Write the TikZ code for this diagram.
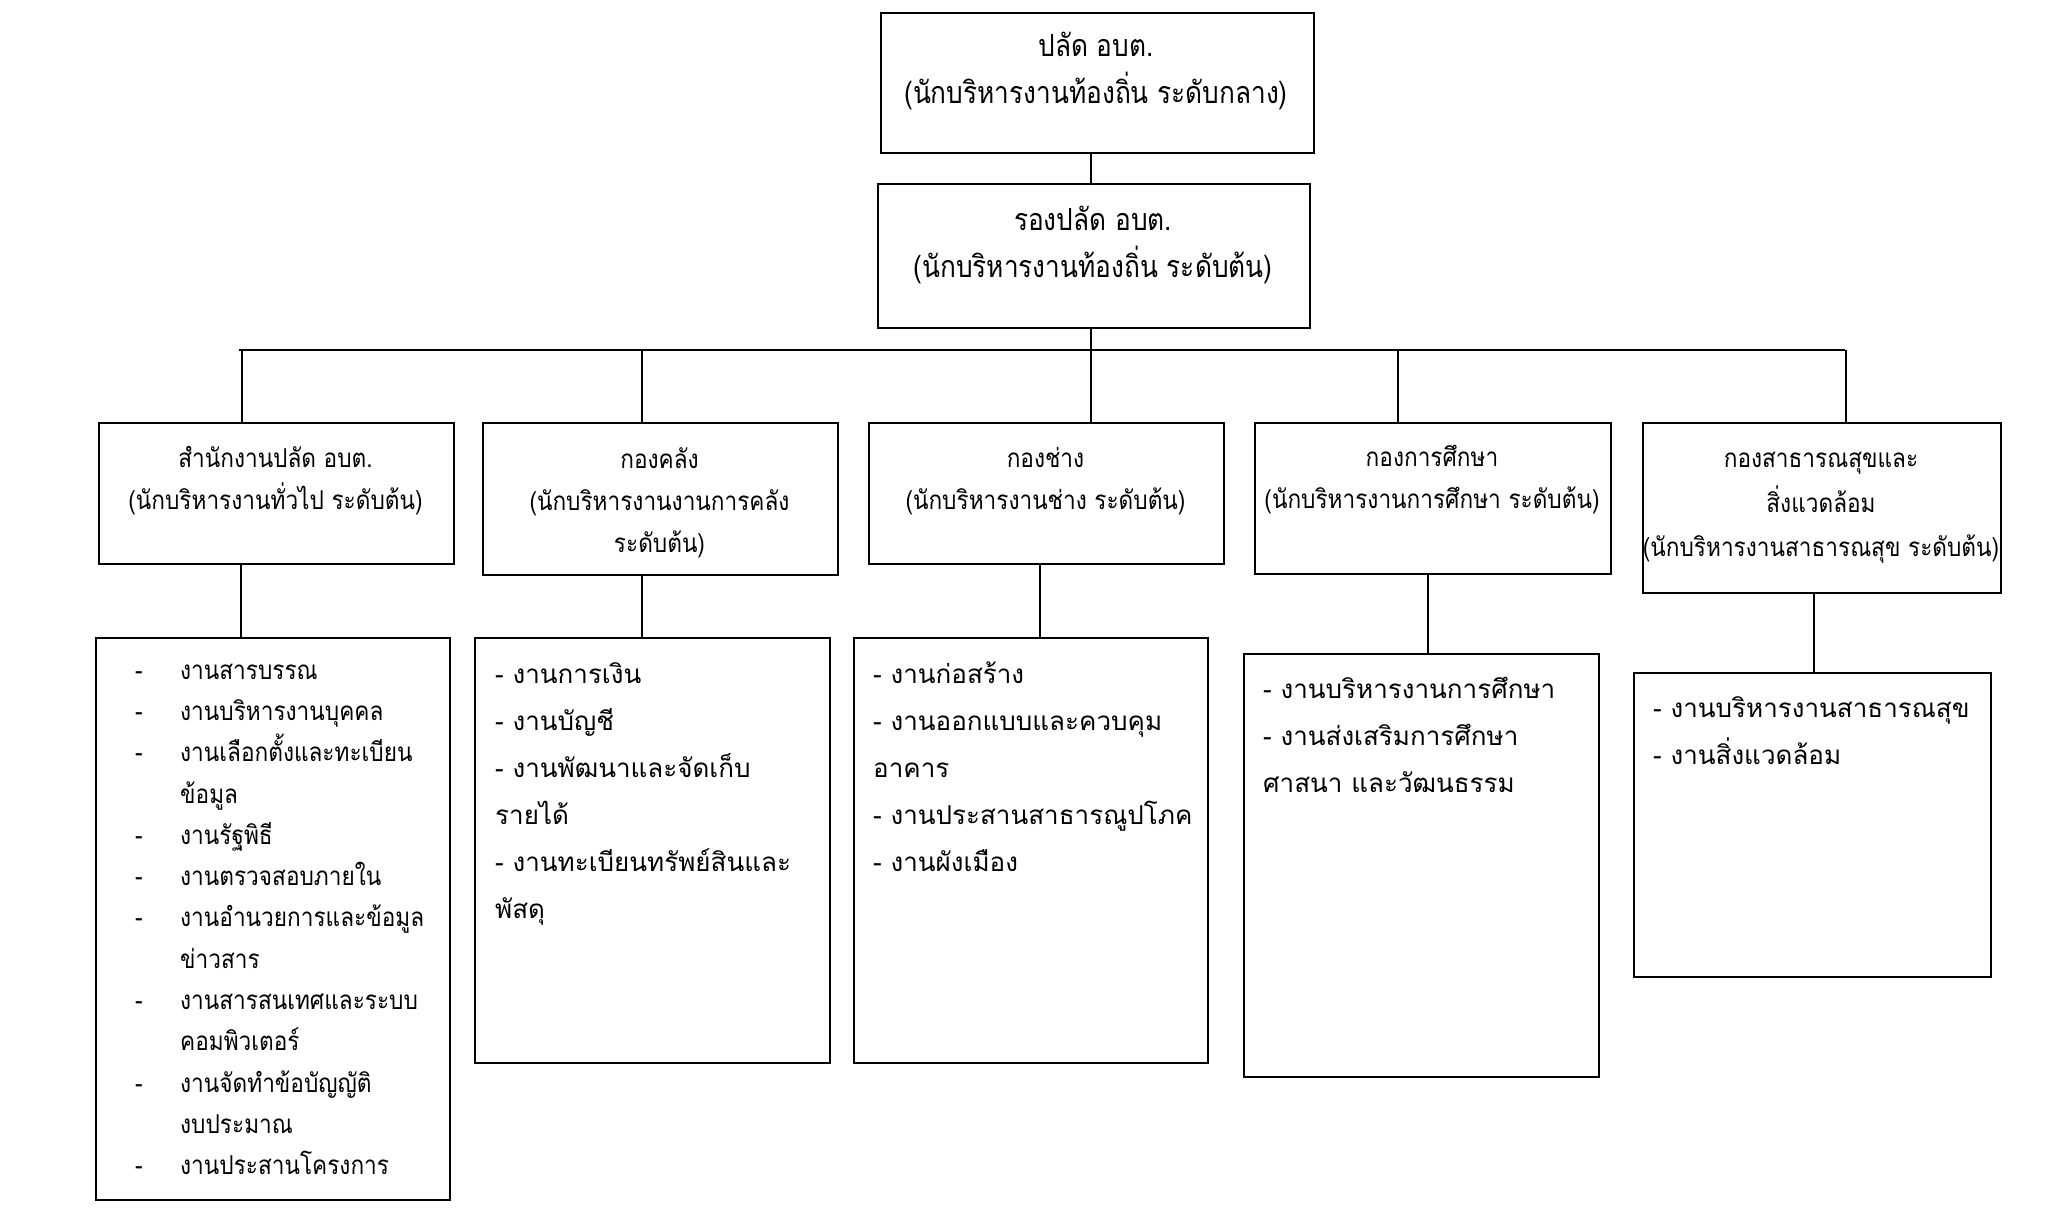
\documentclass[tikz,border=0pt]{standalone}
\usepackage{fontspec}
\newfontfamily\thai[Script=Thai]{Loma}
\newfontfamily\thain[Script=Thai, FakeStretch=0.87]{Loma}
\newfontfamily\thait[Script=Thai, FakeStretch=0.86]{Loma}
\begin{document}
\begin{tikzpicture}[x=1pt,y=-1pt,
  box/.style={draw=black, line width=2.2pt, inner sep=0pt, anchor=north west},
  link/.style={draw=black, line width=2.2pt},
  toptxt/.style={font=\thait\fontsize{30.5}{47}\selectfont, align=center, inner sep=0pt},
  headtxt/.style={font=\thain\fontsize{26}{42}\selectfont, align=center, inner sep=0pt},
  listtxt/.style={font=\thai\fontsize{26}{47}\selectfont, align=left, inner sep=0pt, anchor=north west}]
\useasboundingbox[fill=white] (0,0) rectangle (2050,1213);
% boxes
\node[box, minimum width=433pt, minimum height=140pt] (b0) at (880,12) {};
\node[box, minimum width=432pt, minimum height=144pt] (b1) at (877,183) {};
\node[box, minimum width=355pt, minimum height=141pt] (h1) at (98,422) {};
\node[box, minimum width=355pt, minimum height=152pt] (h2) at (482,422) {};
\node[box, minimum width=355pt, minimum height=141pt] (h3) at (868,422) {};
\node[box, minimum width=356pt, minimum height=151pt] (h4) at (1254,422) {};
\node[box, minimum width=358pt, minimum height=170pt] (h5) at (1642,422) {};
\node[box, minimum width=354pt, minimum height=562pt] (l1) at (95,637) {};
\node[box, minimum width=355pt, minimum height=425pt] (l2) at (474,637) {};
\node[box, minimum width=354pt, minimum height=425pt] (l3) at (853,637) {};
\node[box, minimum width=355pt, minimum height=423pt] (l4) at (1243,653) {};
\node[box, minimum width=357pt, minimum height=304pt] (l5) at (1633,672) {};
% header texts
\node[toptxt] (t0) at (1096,71.5) {ปลัด อบต.\\(นักบริหารงานท้องถิ่น ระดับกลาง)};
\node[toptxt] (t1) at (1093,245.5) {รองปลัด อบต.\\(นักบริหารงานท้องถิ่น ระดับต้น)};
\node[headtxt] (th1) at (275.5,481) {สำนักงานปลัด อบต.\\(นักบริหารงานทั่วไป ระดับต้น)};
\node[headtxt] (th2) at (659.5,503) {กองคลัง\\(นักบริหารงานงานการคลัง\\ระดับต้น)};
\node[headtxt] (th3) at (1045.5,481) {กองช่าง\\(นักบริหารงานช่าง ระดับต้น)};
\node[headtxt] (th4) at (1432,480) {กองการศึกษา\\(นักบริหารงานการศึกษา ระดับต้น)};
\node[headtxt, font=\thain\fontsize{26}{44.5}\selectfont] (th5) at (1821,508) {กองสาธารณสุขและ\\สิ่งแวดล้อม\\(นักบริหารงานสาธารณสุข ระดับต้น)};
% list texts
\node[listtxt, font=\thain\fontsize{26}{41.3}\selectfont] (tl1) at (135,650) {%
\strut\makebox[45pt][l]{-}งานสารบรรณ\\
\makebox[45pt][l]{-}งานบริหารงานบุคคล\\
\makebox[45pt][l]{-}งานเลือกตั้งและทะเบียน\\
\hspace*{45pt}ข้อมูล\\
\makebox[45pt][l]{-}งานรัฐพิธี\\
\makebox[45pt][l]{-}งานตรวจสอบภายใน\\
\makebox[45pt][l]{-}งานอำนวยการและข้อมูล\\
\hspace*{45pt}ข่าวสาร\\
\makebox[45pt][l]{-}งานสารสนเทศและระบบ\\
\hspace*{45pt}คอมพิวเตอร์\\
\makebox[45pt][l]{-}งานจัดทำข้อบัญญัติ\\
\hspace*{45pt}งบประมาณ\\
\makebox[45pt][l]{-}งานประสานโครงการ};
\node[listtxt] (tl2) at (495,650) {\strut- งานการเงิน\\- งานบัญชี\\- งานพัฒนาและจัดเก็บ\\รายได้\\- งานทะเบียนทรัพย์สินและ\\พัสดุ};
\node[listtxt] (tl3) at (873,650) {\strut- งานก่อสร้าง\\- งานออกแบบและควบคุม\\อาคาร\\- งานประสานสาธารณูปโภค\\- งานผังเมือง};
\node[listtxt] (tl4) at (1263,665) {\strut- งานบริหารงานการศึกษา\\- งานส่งเสริมการศึกษา\\ศาสนา และวัฒนธรรม};
\node[listtxt] (tl5) at (1653,684) {\strut- งานบริหารงานสาธารณสุข\\- งานสิ่งแวดล้อม};
% connectors
\coordinate (busL) at (239,350);
\coordinate (busR) at (1845,350);
\coordinate (k1) at (242,350);
\coordinate (k2) at (642,350);
\coordinate (k3) at (1091,350);
\coordinate (k4) at (1398,350);
\coordinate (k5) at (1846,350);
\coordinate (m1) at (241,0);
\coordinate (m2) at (642,0);
\coordinate (m3) at (1040,0);
\coordinate (m4) at (1428,0);
\coordinate (m5) at (1814,0);
\draw[link] (b0.south -| k3) -- (b1.north -| k3);
\draw[link] (b1.south -| k3) -- (k3);
\draw[link] (busL) -- (busR);
\draw[link] (k1) -- (h1.north -| k1);
\draw[link] (k2) -- (h2.north -| k2);
\draw[link] (k3) -- (h3.north -| k3);
\draw[link] (k4) -- (h4.north -| k4);
\draw[link] (k5) -- (h5.north -| k5);
\draw[link] (h1.south -| m1) -- (l1.north -| m1);
\draw[link] (h2.south -| m2) -- (l2.north -| m2);
\draw[link] (h3.south -| m3) -- (l3.north -| m3);
\draw[link] (h4.south -| m4) -- (l4.north -| m4);
\draw[link] (h5.south -| m5) -- (l5.north -| m5);
\end{tikzpicture}
\end{document}
